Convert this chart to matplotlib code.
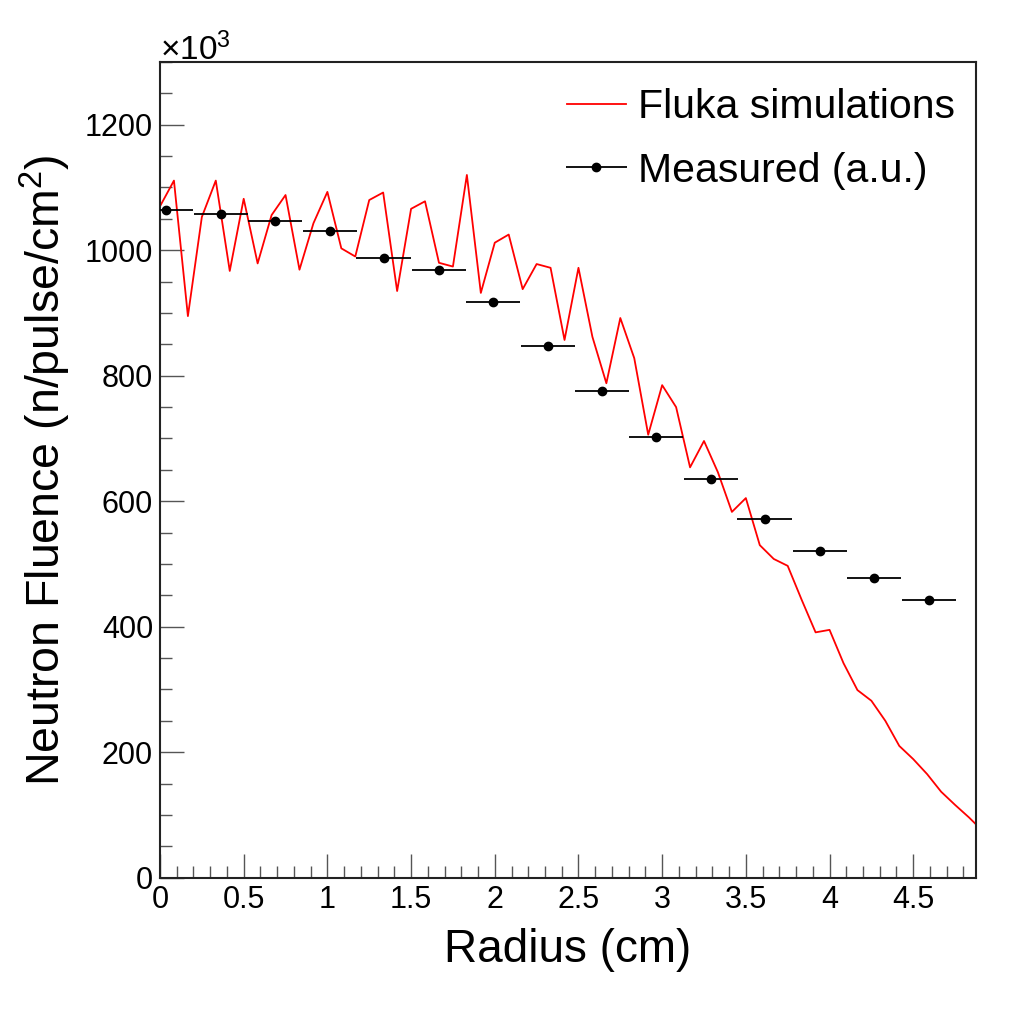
import matplotlib
matplotlib.use("Agg")
import matplotlib.pyplot as plt
from matplotlib.ticker import MultipleLocator, FuncFormatter
from matplotlib.legend_handler import HandlerErrorbar
from matplotlib.container import ErrorbarContainer

plt.rcParams['font.family'] = ['Liberation Sans', 'DejaVu Sans']
plt.rcParams['mathtext.fontset'] = 'custom'
plt.rcParams['mathtext.rm'] = 'Liberation Sans'
plt.rcParams['mathtext.it'] = 'Liberation Sans:italic'
plt.rcParams['mathtext.bf'] = 'Liberation Sans:bold'

# Fluka simulation (radius in cm, fluence in units of 1e3 n/pulse/cm^2)
sim_r = [0.0000, 0.0833, 0.1667, 0.2500, 0.3333, 0.4167, 0.5000, 0.5833, 0.6667, 0.7500,
         0.8333, 0.9167, 1.0000, 1.0833, 1.1667, 1.2500, 1.3333, 1.4167, 1.5000, 1.5833,
         1.6667, 1.7500, 1.8333, 1.9167, 2.0000, 2.0833, 2.1667, 2.2500, 2.3333, 2.4167,
         2.5000, 2.5833, 2.6667, 2.7500, 2.8333, 2.9167, 3.0000, 3.0833, 3.1667, 3.2500,
         3.3333, 3.4167, 3.5000, 3.5833, 3.6667, 3.7500, 3.8333, 3.9167, 4.0000, 4.0833,
         4.1667, 4.2500, 4.3333, 4.4167, 4.5000, 4.5833, 4.6667, 4.7500, 4.8333, 4.9167]
sim_f = [1070, 1111, 895, 1053, 1111, 967, 1082, 979, 1056, 1088,
         969, 1043, 1093, 1003, 990, 1080, 1092, 935, 1066, 1078,
         980, 974, 1120, 932, 1012, 1025, 938, 978, 972, 857,
         972, 862, 788, 892, 828, 706, 785, 750, 654, 696,
         646, 583, 605, 530, 508, 497, 443, 391, 395, 342,
         299, 282, 250, 210, 189, 165, 137, 116, 96, 74]

# Measured points (a.u.)
meas_r = [0.036, 0.364, 0.687, 1.014, 1.336, 1.667, 1.989, 2.318, 2.642, 2.963,
          3.292, 3.612, 3.943, 4.265, 4.594]
meas_f = [1064, 1058, 1047, 1030, 988, 969, 917, 847, 775, 703,
          635, 572, 520, 477, 443]
meas_rerr = [0.1625] * len(meas_r)

W, H = 1019, 1018
fig = plt.figure(figsize=(W / 100, H / 100), dpi=100)
ax = fig.add_axes([160 / W, (H - 877.7) / H, 816 / W, (877.7 - 62) / H])

ax.plot(sim_r, sim_f, color='#ff0000', lw=1.3, label='Fluka simulations', zorder=2)
ax.errorbar(meas_r, meas_f, xerr=meas_rerr, fmt='o', color='black', ms=6,
            elinewidth=1.3, capsize=0, label='Measured (a.u.)', zorder=3)

ax.set_xlim(0, 4.875)
ax.set_ylim(0, 1300)

ax.xaxis.set_major_locator(MultipleLocator(0.5))
ax.xaxis.set_minor_locator(MultipleLocator(0.1))
ax.yaxis.set_major_locator(MultipleLocator(200))
ax.yaxis.set_minor_locator(MultipleLocator(50))
ax.xaxis.set_major_formatter(FuncFormatter(lambda v, p: f"{v:g}"))
ax.yaxis.set_major_formatter(FuncFormatter(lambda v, p: f"{v:g}"))

ax.tick_params(which='both', direction='in', top=False, right=False,
               color='#555555', width=1.0, labelsize=22)
ax.tick_params(which='major', length=17)
ax.tick_params(which='minor', length=8.5)
ax.tick_params(axis='x', which='major', pad=5.5)
ax.tick_params(axis='y', which='major', pad=5)

for s in ax.spines.values():
    s.set_linewidth(1.5)
    s.set_color('#222222')

ax.set_xlabel('Radius (cm)', fontsize=33)
ax.xaxis.label.set_va('baseline')
ax.xaxis.set_label_coords(0.5, (56 - (H - 877.7)) / (877.7 - 62))

ax.set_ylabel(r'Neutron Fluence (n/pulse/cm$^{2}$)', fontsize=33.5)
ax.yaxis.label.set_va('baseline')
ax.yaxis.set_label_coords((60 - 160) / 816, 0.5)

ax.text(0.0, (877.7 - 60) / 815.7, '×10$^{3}$', transform=ax.transAxes,
        fontsize=24, ha='left', va='baseline')

leg = ax.legend(loc='upper left', bbox_to_anchor=((566.7 - 160) / 816, (877.7 - 88) / 815.7),
                frameon=False, fontsize=29.5, handlelength=1.45, handletextpad=0.3,
                borderpad=0, borderaxespad=0, labelspacing=0.63,
                handler_map={ErrorbarContainer: HandlerErrorbar(xerr_size=0.75)})

fig.savefig('out.png', dpi=100)
